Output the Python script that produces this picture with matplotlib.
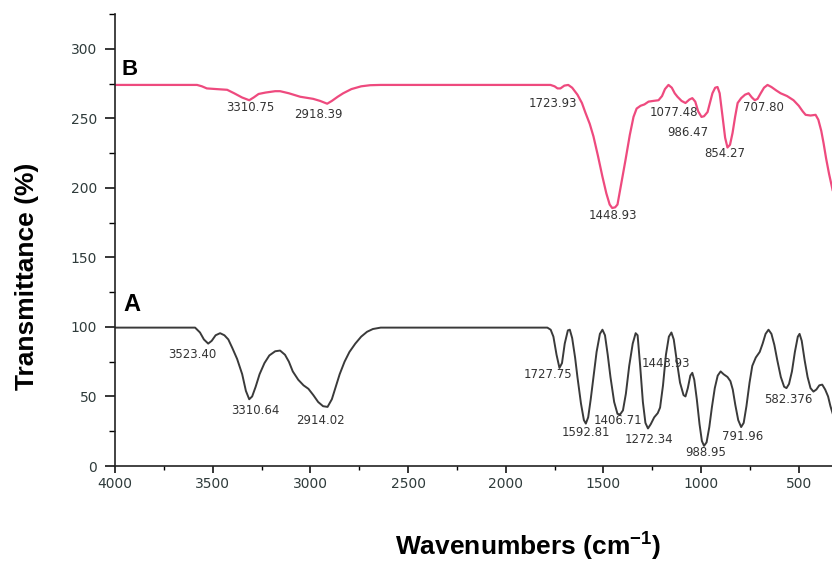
import matplotlib
matplotlib.use("Agg")
import matplotlib.pyplot as plt
from matplotlib.ticker import MultipleLocator

# spectrum A (black)
wn_a = [4000, 3590, 3565, 3545, 3523, 3505, 3485, 3462, 3440, 3420, 3400, 3375, 3349,
        3330, 3313, 3298, 3280, 3260, 3235, 3210, 3180, 3155, 3130, 3110, 3090, 3062,
        3035, 3010, 2985, 2960, 2935, 2912, 2890, 2870, 2850, 2825, 2800, 2770, 2740,
        2710, 2680, 2640,
        1787, 1770, 1756, 1740, 1725, 1712, 1698, 1682, 1672, 1660, 1645, 1633, 1615,
        1600, 1590, 1578, 1565, 1551, 1535, 1518, 1505, 1492, 1478, 1464, 1445, 1428,
        1415, 1400, 1385, 1368, 1350, 1335, 1325, 1312, 1298, 1285, 1272, 1258, 1240,
        1222, 1210, 1195, 1180, 1165, 1152, 1140, 1125, 1108, 1090, 1080, 1068, 1055,
        1045, 1035, 1022, 1008, 996, 985, 972, 958, 945, 930, 915, 900, 885, 865, 850,
        838, 825, 810, 795, 782, 768, 752, 738, 720, 700, 685, 670, 655, 640, 625, 610,
        592, 575, 563, 550, 535, 520, 505, 496, 485, 470, 455, 440, 425, 410, 395, 380,
        365, 350, 338, 327]
tr_a = [99.5, 99.5, 96, 91, 88, 90, 94, 95.5, 94, 91, 85, 77, 66,
        54, 48, 50, 57, 66, 74, 79.5, 82.5, 83, 80, 75, 68, 62,
        58, 55.5, 51, 46, 43, 42.5, 48, 57, 66, 75, 82, 88, 93,
        96.5, 98.5, 99.5,
        99.5, 98, 93, 80, 70.5, 74, 88, 97.5, 98, 92, 78, 64, 45,
        33, 30.5, 35, 48, 64, 82, 95, 98, 94, 80, 64, 46, 37.5,
        37, 40, 52, 72, 88, 95.5, 94, 72, 46, 31, 27, 30, 35,
        38, 42, 58, 80, 93, 96, 91, 76, 60, 51, 50, 56, 65,
        67, 62, 48, 30, 18, 14.5, 17, 28, 42, 56, 65, 68, 66, 64, 61,
        55, 44, 33, 28, 31, 43, 60, 72, 78, 82, 88, 95, 98, 95, 87, 76,
        64, 57, 56, 59, 68, 82, 93, 95, 90, 76, 64, 56, 53.5, 55, 58, 58.5,
        55, 50, 43, 38]

# spectrum B (pink)
wn_b = [4000, 3580, 3555, 3530, 3480, 3426, 3390, 3350, 3313, 3290, 3265, 3230, 3180,
        3155, 3110, 3052, 2986, 2950, 2914, 2890, 2860, 2832, 2790, 2740, 2694, 2640,
        1771, 1750, 1735, 1720, 1700, 1680, 1660, 1633, 1610, 1592, 1570, 1551, 1528,
        1505, 1485, 1468, 1455, 1440, 1428, 1410, 1387, 1365, 1346, 1330, 1310, 1290,
        1269, 1245, 1218, 1200, 1185, 1167, 1150, 1135, 1121, 1100, 1080, 1060, 1045,
        1030, 1015, 998, 985, 967, 955, 942, 928, 916, 905, 890, 877, 865, 852, 839,
        826, 813, 795, 775, 757, 740, 725, 711, 695, 678, 660, 640, 615, 593, 560, 527,
        500, 480, 465, 440, 414, 400, 385, 373, 360, 345, 327]
tr_b = [274, 274, 273, 271.5, 271, 270.5, 268, 265, 263, 265, 267.5, 268.5, 269.5,
        269.5, 268, 265.5, 264, 262.5, 260.5, 262.5, 265.5, 268, 271, 273, 273.8, 274,
        274, 273, 271.5, 271.5, 273.5, 274, 272, 267, 261, 254, 246, 237, 223,
        208, 196, 188, 185.5, 186, 188, 202, 220, 238, 251, 257, 259, 260,
        262, 262.5, 263, 266, 271, 274, 272, 268, 265.5, 262.5, 261, 263.5, 264.5,
        262, 255, 251, 251.5, 254.5, 261, 268, 272, 272.5, 268, 251, 236, 229, 231, 239.5,
        251, 261, 264.5, 267, 268, 265, 263, 264, 268, 272, 274, 272.5, 270, 268, 266, 263,
        259, 255, 252.5, 252, 252.5, 249, 241, 232, 221, 210, 198.5]

# peak labels: text, x, y
labels_a = [("3523.40", 3606, 80), ("3310.64", 3283, 40), ("2914.02", 2950, 33),
            ("1727.75", 1782, 66), ("1443.93", 1182, 74), ("1406.71", 1428, 33),
            ("1592.81", 1592, 24), ("1272.34", 1269, 19), ("988.95", 977, 10),
            ("791.96", 788, 21.5), ("582.376", 552, 48)]
labels_b = [("3310.75", 3308, 257.5), ("2918.39", 2960, 253), ("1723.93", 1761, 261),
            ("1448.93", 1449, 180), ("1077.48", 1141, 254), ("986.47", 1070, 239.5),
            ("854.27", 880, 225), ("707.80", 680, 258)]

plt.rcParams['font.family'] = ['Liberation Sans', 'DejaVu Sans']
plt.rcParams['mathtext.default'] = 'regular'

fig = plt.figure(figsize=(8.32, 5.65), dpi=100)
ax = fig.add_axes([115 / 832, 99 / 565, 717 / 832, 452 / 565])

ax.plot(wn_a, tr_a, color='#3a3a3a', lw=1.4, solid_joinstyle='round')
ax.plot(wn_b, tr_b, color='#ee4a7e', lw=1.6, solid_joinstyle='round')

for t, x, y in labels_a + labels_b:
    ax.text(x, y, t, fontsize=8.5, family='DejaVu Sans', color='#333333',
            ha='center', va='center')

ax.text(3923, 285, 'B', fontsize=16, fontweight='bold', ha='center', va='center')
ax.text(3913, 116, 'A', fontsize=17, fontweight='bold', ha='center', va='center')

ax.set_xlim(4000, 330)
ax.set_ylim(0, 325)
ax.xaxis.set_major_locator(MultipleLocator(500))
ax.xaxis.set_minor_locator(MultipleLocator(250))
ax.yaxis.set_minor_locator(MultipleLocator(25))
ax.set_yticks([0, 50, 100, 150, 200, 250, 300])

for s in ['top', 'right']:
    ax.spines[s].set_visible(False)
for s in ['left', 'bottom']:
    ax.spines[s].set_linewidth(1.2)
    ax.spines[s].set_color('#222222')

ax.tick_params(axis='y', which='major', length=7, width=1.1, pad=6, labelsize=10,
               labelcolor='#2f3b3b')
ax.tick_params(axis='y', which='minor', length=4, width=1.0)
ax.tick_params(axis='x', which='major', length=5, width=1.1, pad=3, labelsize=10,
               labelcolor='#2f3b3b')
ax.tick_params(axis='x', which='minor', length=3, width=1.0)
for lab in ax.get_xticklabels() + ax.get_yticklabels():
    lab.set_family('DejaVu Sans')

fig.text(528 / 832, 1 - 547 / 565, r'Wavenumbers (cm$^{-1}$)', fontsize=19,
         fontweight='bold', ha='center', va='center')
fig.text(27 / 832, 1 - 276 / 565, 'Transmittance (%)', fontsize=19,
         fontweight='bold', ha='center', va='center', rotation=90)

fig.savefig('out.png', dpi=100)
